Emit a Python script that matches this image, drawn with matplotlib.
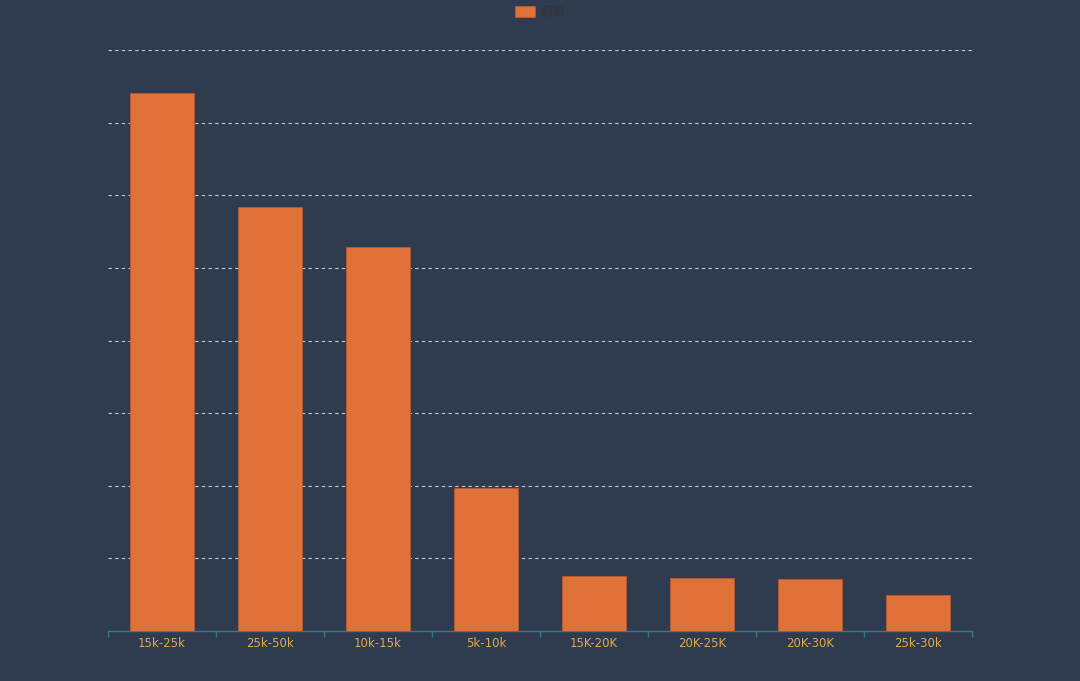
import matplotlib.pyplot as plt
import numpy as np

# data
categories = ["15k-25k", "25k-50k", "10k-15k", "5k-10k", "15K-20K", "20K-25K", "20K-30K", "25k-30k"]
values = [7410, 5840, 5290, 1970, 760, 730, 715, 495]
series_name = "薪资"

BG = "#2f3b4f"
BAR = "#e07139"
AXIS = "#2e7f8c"
LABEL = "#e6a844"

plt.rcParams['font.family'] = ['Noto Sans CJK SC', 'DejaVu Sans']

fig = plt.figure(figsize=(10.8, 6.81), dpi=100, facecolor=BG)
ax = fig.add_axes([0.1, 0.0734, 0.8, 0.8532])
ax.set_facecolor(BG)

x = np.arange(len(categories))
ax.bar(x, values, width=0.6, color=BAR, edgecolor="#b85a30", linewidth=0.6,
       label=series_name, zorder=3)

ax.set_xlim(-0.5, len(categories) - 0.5)
ax.set_ylim(0, 8000)

# grid
ax.set_yticks(np.arange(1000, 8001, 1000))
ax.yaxis.grid(True, color="#c8ccd2", linestyle=(0, (3, 3)), linewidth=0.8, zorder=1)
ax.tick_params(axis="y", length=0, labelleft=False)

# x axis: ticks at boundaries, labels at centres
ax.set_xticks(np.arange(-0.5, len(categories), 1.0))
ax.set_xticklabels([])
ax.set_xticks(x, minor=True)
ax.set_xticklabels(categories, minor=True, color=LABEL, fontsize=8.5,
                   family=['DejaVu Sans'])
ax.tick_params(axis="x", which="major", length=4, color=AXIS, width=1)
ax.tick_params(axis="x", which="minor", length=0, pad=4)

for s in ["top", "right", "left"]:
    ax.spines[s].set_visible(False)
ax.spines["bottom"].set_color(AXIS)
ax.spines["bottom"].set_linewidth(1)

leg = fig.legend(loc="upper center", bbox_to_anchor=(0.5, 1.008), frameon=False,
                 fontsize=9, handlelength=1.6, handleheight=0.9, handletextpad=0.4)
for t in leg.get_texts():
    t.set_color("#333333")

fig.savefig("out.png", dpi=100, facecolor=BG)
